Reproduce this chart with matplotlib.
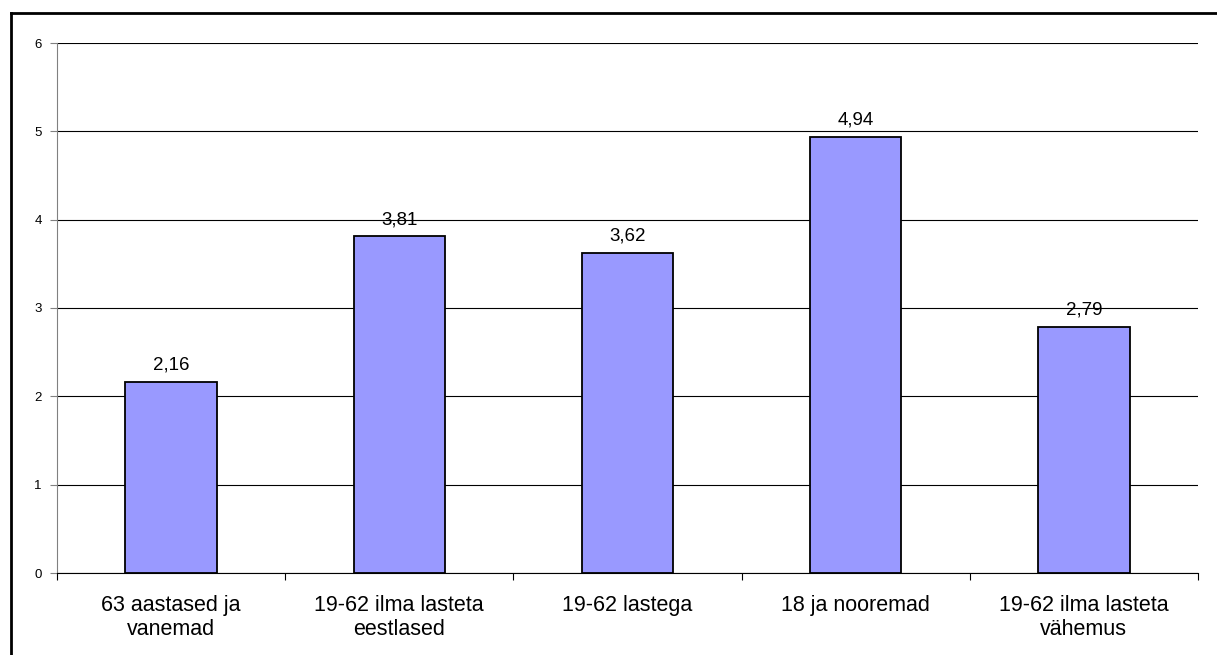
import matplotlib.pyplot as plt
from matplotlib.lines import Line2D

#Data
categories = ['63 aastased ja\nvanemad', '19-62 ilma lasteta\neestlased',
              '19-62 lastega', '18 ja nooremad', '19-62 ilma lasteta\nvähemus']
values = [2.16, 3.81, 3.62, 4.94, 2.79]
value_labels = ['2,16', '3,81', '3,62', '4,94', '2,79']
yticks = [0, 1, 2, 3, 4, 5, 6]

plt.rcParams['font.family'] = ['Liberation Sans', 'DejaVu Sans']

W, H = 1217, 655
fig = plt.figure(figsize=(W/100, H/100), dpi=100)
ax = fig.add_axes([57/W, 1-573/H, (1198-57)/W, (573-43)/H])

x = list(range(len(categories)))
ax.bar(x, values, width=0.4, color='#9999ff', edgecolor='black', linewidth=1.3, zorder=3)

for xi, v, lab in zip(x, values, value_labels):
    ax.text(xi, v + 0.14, lab, ha='center', va='baseline', fontsize=13.5)

ax.set_xlim(-0.5, len(categories) - 0.5)
ax.set_ylim(0, 6)
ax.set_yticks(yticks)
ax.set_yticklabels([str(t) for t in yticks], fontsize=9.5)
ax.yaxis.grid(True, color='black', linewidth=0.8, zorder=0)
ax.set_axisbelow(True)

#category labels between boundary ticks
ax.set_xticks([i - 0.5 for i in range(len(categories) + 1)])
ax.set_xticklabels([])
ax.set_xticks(x, minor=True)
ax.set_xticklabels(categories, minor=True, fontsize=15.5, linespacing=1.2)
ax.tick_params(axis='x', which='minor', length=0, pad=16)
ax.tick_params(axis='x', which='major', length=5, direction='out', color='black')
ax.tick_params(axis='y', length=5, direction='out', color='#808080', pad=6)

for s in ['top', 'right']:
    ax.spines[s].set_visible(False)
ax.spines['left'].set_color('#808080')
ax.spines['bottom'].set_color('black')

#outer frame
fig.add_artist(Line2D([11/W, 11/W], [0, 1-13/H], color='black', linewidth=2))
fig.add_artist(Line2D([11/W, 1], [1-13/H, 1-13/H], color='black', linewidth=2))

plt.savefig('out.png', dpi=100)
